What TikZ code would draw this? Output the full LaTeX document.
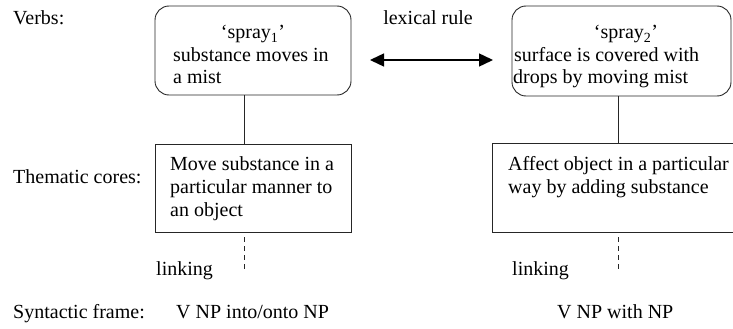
\documentclass[tikz,border=0pt]{standalone}
\usepackage{fontspec}
\setmainfont{Liberation Serif}
\usetikzlibrary{arrows.meta}

\tikzset{
  txt/.style={anchor=base west, inner sep=0pt, font=\fontsize{20}{22}\selectfont},
  ctxt/.style={anchor=base, inner sep=0pt, font=\fontsize{20}{22}\selectfont},
  verbbox/.style={draw=black!85, line width=0.9pt, rounded corners=14pt, inner sep=0pt},
  corebox/.style={draw=black!85, line width=0.9pt, inner sep=0pt},
  openbox/.style={inner sep=0pt},
  tie/.style={draw=black!85, line width=0.9pt},
  linkline/.style={draw=black!85, line width=0.9pt, dash pattern=on 5pt off 4pt},
  rulearrow/.style={draw=black, line width=1.4pt, {Triangle[length=14pt,width=13pt]}-{Triangle[length=14pt,width=13pt]}}
}

\begin{document}
\begin{tikzpicture}[x=1pt, y=-1pt]
\useasboundingbox (0,0) rectangle (733,329);

% row labels
\node[txt] (lverbs) at (13,25) {Verbs:};
\node[txt] (lcores) at (13,183) {Thematic cores:};
\node[txt] (lframe) at (13,318) {Syntactic frame:};

% verb boxes
\node[verbbox, minimum width=196pt, minimum height=89pt] (v1) at (253,50.5) {};
\node[verbbox, minimum width=219pt, minimum height=90pt] (v2) at (621.5,51) {};

\node[ctxt] (v1a) at (253,39) {‘spray\textsubscript{1}’};
\node[txt] (v1b) at (173,61) {substance moves in};
\node[txt] (v1c) at (173,83) {a mist};

\node[ctxt] (v2a) at (626,39) {‘spray\textsubscript{2}’};
\node[txt] (v2b) at (514,61) {surface is covered with};
\node[txt] (v2c) at (513,83) {drops by moving mist};

% lexical rule between the two verb senses
\node[ctxt] (lex) at (428,25) {lexical rule};
\coordinate (ra) at (370,60);
\coordinate (rb) at (493,60);
\draw[rulearrow] (ra) -- (rb);

% thematic core boxes; the right one is open at the page edge
\node[corebox, minimum width=196pt, minimum height=88pt] (t1) at (253,188) {};
\node[openbox, minimum width=314pt, minimum height=88pt] (t2) at (650,188) {};
\draw[tie] (t2.north east) -- (t2.north west) -- (t2.south west) -- (t2.south east);

\node[txt] (t1a) at (170,170) {Move substance in a};
\node[txt] (t1b) at (170,193) {particular manner to};
\node[txt] (t1c) at (170,216) {an object};

\node[txt] (t2a) at (508,170) {Affect object in a particular};
\node[txt] (t2b) at (508,193) {way by adding substance};

% connectors from verbs to cores
\coordinate (c1) at (244,0);
\coordinate (c2) at (618,0);
\draw[tie] (v1.south -| c1) -- (t1.north -| c1);
\draw[tie] (v2.south -| c2) -- (t2.north -| c2);

% linking to syntactic frames
\coordinate (d1) at (244,273);
\coordinate (d2) at (618,273);
\draw[linkline] ([yshift=-5pt]t1.south -| c1) -- (d1);
\draw[linkline] ([yshift=-5pt]t2.south -| c2) -- (d2);
\node[txt] (k1) at (156,275) {linking};
\node[txt] (k2) at (512,275) {linking};

% syntactic frames
\node[txt] (f1) at (176,318) {V NP into/onto NP};
\node[txt] (f2) at (557,318) {V NP with NP};
\end{tikzpicture}
\end{document}
